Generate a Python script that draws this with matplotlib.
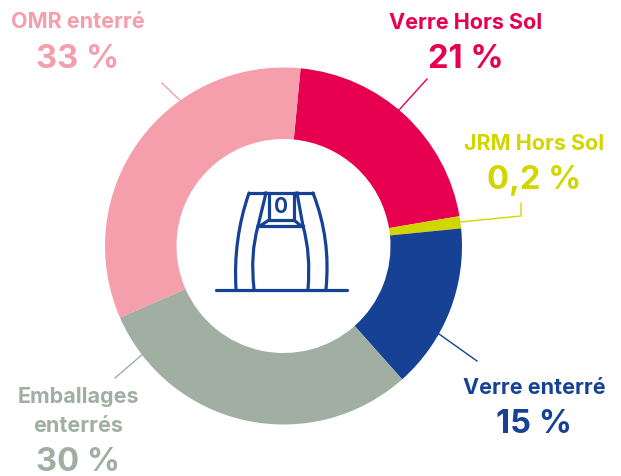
import matplotlib
matplotlib.use("Agg")
import matplotlib.pyplot as plt
from matplotlib.patches import PathPatch
from matplotlib.path import Path

categories = ["Verre Hors Sol", "JRM Hors Sol", "Verre enterré", "Emballages\nenterrés", "OMR enterré"]
shares_drawn = [20.8, 1.1, 15.0, 30.0, 33.1]
pct_labels = ["21 %", "0,2 %", "15 %", "30 %", "33 %"]
colors = ["#E6004F", "#D2D600", "#164194", "#A0AFA2", "#F59EAC"]

W, H = 621, 477
CX, CY, R = 283.5, 247, 178.5
plt.rcParams["font.family"] = ["Inter", "DejaVu Sans"]
fig = plt.figure(figsize=(W / 100, H / 100), dpi=100)

pa = fig.add_axes([(CX - R) / W, 1 - (CY + R) / H, 2 * R / W, 2 * R / H])
pa.pie(shares_drawn, colors=colors, startangle=84.5, counterclock=False, radius=1,
       wedgeprops=dict(width=1 - 107 / 178.5, linewidth=0))
pa.set_xlim(-1, 1); pa.set_ylim(-1, 1); pa.set_aspect("equal"); pa.axis("off")

ov = fig.add_axes([0, 0, 1, 1], zorder=5)
ov.set_xlim(0, W); ov.set_ylim(H, 0); ov.axis("off"); ov.patch.set_alpha(0)

label_pos = [(466, 23, 60), (534, 144, 181), (534, 388, 425), (78, 397, 463), (78, 22, 60)]
for (x, y1, y2), c, name, p in zip(label_pos, colors, categories, pct_labels):
    for i, part in enumerate(name.split("\n")):
        ov.text(x, y1 + i * 29, part, color=c, ha="center", va="center", fontsize=15.5, fontweight="bold")
    ov.text(x, y2, p, color=c, ha="center", va="center", fontsize=23.5, fontweight="bold")

ov.plot([162, 193], [84, 114], color=colors[4], lw=1)
ov.plot([427, 399], [80, 111], color=colors[0], lw=1)
ov.plot([460, 521, 521], [223, 217, 204], color=colors[1], lw=1)
ov.plot([439, 477], [335, 362], color=colors[2], lw=1)
ov.plot([144, 115], [354, 379], color=colors[3], lw=1)

blue = colors[2]
LW = 2.3
def curve(pts):
    codes = [Path.MOVETO] + [Path.CURVE3] * (len(pts) - 1)
    ov.add_patch(PathPatch(Path(pts, codes), fill=False, ec=blue, lw=LW, capstyle="round"))

ov.plot([216, 347], [290.5, 290.5], color=blue, lw=LW, solid_capstyle="round")
ov.plot([249, 313], [194, 194], color=blue, lw=LW, solid_capstyle="round")
curve([(249, 194), (233, 240), (236, 290)])
curve([(313, 194), (331, 240), (326, 290)])
ov.plot([269, 269, 294, 294], [194, 221, 221, 194], color=blue, lw=LW)
ov.plot([266, 258], [194, 227], color=blue, lw=LW)
ov.plot([297, 303], [194, 227], color=blue, lw=LW)
ov.plot([258, 303], [227, 227], color=blue, lw=LW)
ov.plot([269, 260], [221, 227], color=blue, lw=LW)
ov.plot([294, 301], [221, 227], color=blue, lw=LW)
curve([(258, 227), (250, 255), (254, 290)])
curve([(303, 227), (311, 255), (308, 290)])
ov.text(281, 207.5, "0", color=blue, ha="center", va="center", fontsize=15, fontweight="bold")

fig.savefig("out.png", dpi=100)
